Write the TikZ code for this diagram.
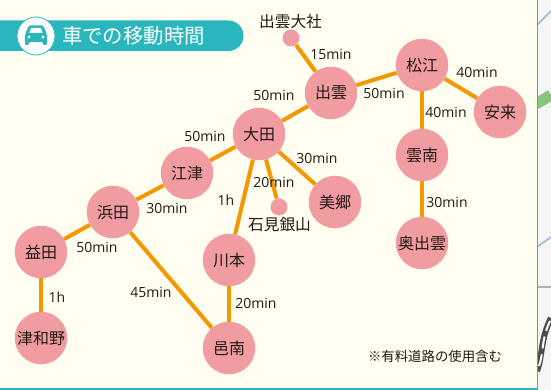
\documentclass[tikz,border=0pt]{standalone}
\usepackage{fontspec}
\setmainfont{Noto Sans CJK JP}
\newfontfamily\latinlab{Open Sans}
\definecolor{paper}{HTML}{FFFEF0}
\definecolor{teal}{HTML}{29B7BD}
\definecolor{pinkc}{HTML}{F19CA0}
\definecolor{road}{HTML}{F39800}
\definecolor{ink}{HTML}{231815}
\definecolor{bandgreen}{HTML}{8AC57C}
\definecolor{thinblue}{HTML}{A3B4DC}
\definecolor{outside}{HTML}{F5F5F5}
\tikzset{
  town/.style={circle,fill=pinkc,minimum size=52.5pt,inner sep=0pt,text=ink,font=\fontsize{16pt}{17pt}\selectfont},
  spot/.style={circle,fill=pinkc,minimum size=17pt,inner sep=0pt},
  link/.style={draw=road,line width=4pt},
  timelab/.style={text=ink,inner sep=0pt,font=\latinlab\fontsize{14pt}{15pt}\selectfont},
  place/.style={text=ink,inner sep=0pt,font=\fontsize{15.7pt}{16pt}\selectfont},
}
\begin{document}
\begin{tikzpicture}[x=1pt,y=-1pt]
\useasboundingbox (0,0) rectangle (551,390);
% outside
\fill[outside] (0,0) rectangle (551,390);
\draw[bandgreen,line width=11pt] (536,104) -- (551,95);
\draw[thinblue,line width=1.6pt] (537,25) -- (551,11);
\draw[thinblue,line width=1.6pt] (537,247) -- (551,237);
\draw[black!30,line width=1.2pt] (537,287) -- (551,287);
\draw[black!70,line width=6pt] (537,371) .. controls (543,355) and (540,340) .. (551,318);
\draw[white,line width=2pt,dash pattern=on 12pt off 6pt] (539,366) .. controls (544,352) and (541,340) .. (550,321);
% panel
\fill[paper] (-2,-2) rectangle (537.5,389);
\draw[teal,line width=1.6pt] (537.5,-2) -- (537.5,389) -- (-2,389);
% header
\fill[teal,rounded corners=15.2pt] (-20,20.5) rectangle (243.5,51);
\node[circle,fill=white,draw=teal,line width=0.8pt,minimum size=38pt,inner sep=0pt] (badge) at (36,36) {};
\fill[teal,rounded corners=1.2pt] (26,32) -- (29,25.5) -- (43,25.5) -- (46,32) -- (47,36) -- (47,45) -- (43,45) -- (43,42) -- (29,42) -- (29,45) -- (25,45) -- (25,36) -- cycle;
\fill[white] (29.5,33) -- (31,28) -- (41,28) -- (42.5,33) -- cycle;
\fill[white] (29,37) circle (1.6pt) (43,37) circle (1.6pt);
\node[text=white,inner sep=0pt,font=\fontsize{20.4pt}{21pt}\selectfont] (title) at (133.5,36) {車での移動時間};
% towns
\node[town] (matsue) at (422,65) {松江};
\node[town] (yasugi) at (500,112) {安来};
\node[town] (unnan) at (422,155) {雲南};
\node[town] (okuizumo) at (422,243) {奥出雲};
\node[town] (izumo) at (331,93) {出雲};
\node[town] (oda) at (259,134) {大田};
\node[town] (gotsu) at (187,173) {江津};
\node[town] (hamada) at (113,212) {浜田};
\node[town] (masuda) at (41,252) {益田};
\node[town] (tsuwano) at (41,338) {津和野};
\node[town] (kawamoto) at (229,260) {川本};
\node[town] (ohnan) at (229,348) {邑南};
\node[town] (misato) at (335,202) {美郷};
\node[spot] (taisha) at (291,38) {};
\node[spot] (ginzan) at (279,207) {};
% links
\draw[link] (taisha) -- (izumo);
\draw[link] (izumo) -- (matsue);
\draw[link] (matsue) -- (yasugi);
\draw[link] (matsue) -- (unnan);
\draw[link] (unnan) -- (okuizumo);
\draw[link] (oda) -- (izumo);
\draw[link] (oda) -- (gotsu);
\draw[link] (oda) -- (misato);
\draw[link] (oda) -- (ginzan);
\draw[link] (oda) -- (kawamoto);
\draw[link] (gotsu) -- (hamada);
\draw[link] (hamada) -- (masuda);
\draw[link] (hamada) -- (ohnan);
\draw[link] (masuda) -- (tsuwano);
\draw[link] (kawamoto) -- (ohnan);
% places
\node[place] (ltaisha) at (290.5,22) {出雲大社};
\node[place] (lginzan) at (279.5,225) {石見銀山};
% times
\node[timelab] (t1) at (331,54) {15min};
\node[timelab] (t2) at (384,93) {50min};
\node[timelab] (t3) at (477,72) {40min};
\node[timelab] (t4) at (446,112) {40min};
\node[timelab] (t5) at (317,158) {30min};
\node[timelab] (t6) at (447,202) {30min};
\node[timelab] (t7) at (274,95) {50min};
\node[timelab] (t8) at (205,136) {50min};
\node[timelab] (t9) at (274,182) {20min};
\node[timelab] (t10) at (167,208) {30min};
\node[timelab] (t11) at (226,200) {1h};
\node[timelab] (t12) at (97,247) {50min};
\node[timelab] (t13) at (151,292) {45min};
\node[timelab] (t14) at (57,297) {1h};
\node[timelab] (t15) at (256,303) {20min};
\node[text=ink,inner sep=0pt,font=\fontsize{13.4pt}{14pt}\selectfont] (note) at (435,356) {※有料道路の使用含む};
\end{tikzpicture}
\end{document}
